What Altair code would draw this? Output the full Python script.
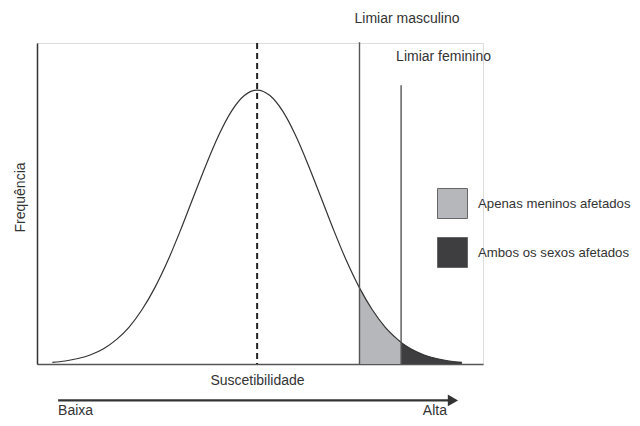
import altair as alt
import pandas as pd

# --- data (x in standard-deviation units, frequency peak = 100) ---
z_vals = [-3.2, -3.0, -2.8, -2.6, -2.4, -2.2, -2.0, -1.8, -1.6, -1.4, -1.2, -1.0, -0.8, -0.6,
          -0.4, -0.2, 0.0, 0.2, 0.4, 0.6, 0.8, 1.0, 1.2, 1.4, 1.6, 1.8, 2.0, 2.2, 2.25, 2.4,
          2.6, 2.8, 3.0, 3.2]
freq = [0.6, 1.1, 2.0, 3.4, 5.6, 8.9, 13.5, 19.8, 27.8, 37.5, 48.7, 60.7, 72.6, 83.5,
        92.3, 98.0, 100.0, 98.0, 92.3, 83.5, 72.6, 60.7, 48.7, 37.5, 27.8, 19.8, 13.5, 8.9, 7.9, 5.6,
        3.4, 2.0, 1.1, 0.6]

mean_z = 0.0
male_threshold = 1.6
female_threshold = 2.25
groups = ["Apenas meninos afetados", "Ambos os sexos afetados"]
group_colors = ["#b6b7ba", "#3e3e40"]
threshold_labels = ["Limiar masculino", "Limiar feminino"]
threshold_tops = [117.5, 101.8]
label_heights = [126.0, 112.0]
arrow_start, arrow_end = -3.11, 3.0
arrow_tip = 3.06
arrow_level = -13.3
end_label_level = -17.3
end_labels = ["Baixa", "Alta"]

X_DOMAIN = [-3.44, 3.53]
Y_DOMAIN = [0, 117.2]
FONT = "Liberation Sans"
FS = 14

curve = pd.DataFrame({"z": z_vals, "f": freq})
male_area = curve[(curve.z >= male_threshold) & (curve.z <= female_threshold)].assign(grupo=groups[0])
fem_area = curve[curve.z >= female_threshold].assign(grupo=groups[1])
areas = pd.concat([male_area, fem_area])

xs = alt.Scale(domain=X_DOMAIN, nice=False, zero=False)
ys = alt.Scale(domain=Y_DOMAIN, nice=False, zero=False)

base = alt.Chart(curve)

shaded = alt.Chart(areas).mark_area(opacity=1).encode(
    x=alt.X("z:Q", scale=xs, axis=alt.Axis(title="Suscetibilidade", labels=False, ticks=False,
                                             grid=False, domainColor="#555", domainWidth=1.5,
                                             titleFont=FONT, titleFontSize=FS, titleFontWeight="normal",
                                             titleColor="#333", titlePadding=9, titleX=220)),
    y=alt.Y("f:Q", scale=ys, stack=None,
            axis=alt.Axis(title="Frequência", labels=False, ticks=False,
                          grid=False, domainColor="#333", domainWidth=1.5,
                          titleFont=FONT, titleFontSize=FS, titleFontWeight="normal",
                          titleColor="#333", titlePadding=10, titleY=154)),
    color=alt.Color("grupo:N", scale=alt.Scale(domain=groups, range=group_colors),
                    legend=alt.Legend(title=None, orient="none", legendX=400, legendY=145,
                                      symbolType="square", symbolSize=900, symbolStrokeColor="#666",
                                      symbolStrokeWidth=1, symbolOpacity=1, labelFont=FONT,
                                      labelFontSize=13.2, labelColor="#333", labelLimit=300,
                                      labelOffset=10, rowPadding=14, padding=0)),
    detail="grupo:N",
)

line = base.mark_line(color="#333", strokeWidth=1.2, interpolate="monotone").encode(
    x=alt.X("z:Q", scale=xs), y=alt.Y("f:Q", scale=ys)
)

thr = pd.DataFrame({"z": [male_threshold, female_threshold], "top": threshold_tops,
                    "lab": threshold_labels, "ly": label_heights})
thr_rules = alt.Chart(thr).mark_rule(color="#555", strokeWidth=1.4).encode(
    x=alt.X("z:Q", scale=xs), y=alt.Y("top:Q", scale=ys), y2=alt.datum(0)
)
thr_text = alt.Chart(thr).mark_text(align="left", baseline="middle", dx=-5, font=FONT,
                                    fontSize=FS, color="#333").encode(
    x=alt.X("z:Q", scale=xs), y=alt.Y("ly:Q", scale=ys), text="lab:N"
)

mean_df = pd.DataFrame({"z": [mean_z], "top": [Y_DOMAIN[1]]})
mean_rule = alt.Chart(mean_df).mark_rule(color="#222", strokeWidth=2, strokeDash=[6, 4]).encode(
    x=alt.X("z:Q", scale=xs), y=alt.Y("top:Q", scale=ys), y2=alt.datum(0)
)

arrow_df = pd.DataFrame({"x0": [arrow_start], "x1": [arrow_end], "y": [arrow_level]})
arrow_line = alt.Chart(arrow_df).mark_rule(color="#333", strokeWidth=2.2).encode(
    x=alt.X("x0:Q", scale=xs), x2="x1:Q", y=alt.Y("y:Q", scale=ys)
)
tip_df = pd.DataFrame({"x": [arrow_tip], "y": [arrow_level]})
arrow_tip_mark = alt.Chart(tip_df).mark_point(shape="triangle-right", filled=True, size=140,
                                              color="#333", opacity=1).encode(
    x=alt.X("x:Q", scale=xs), y=alt.Y("y:Q", scale=ys)
)
ends_df = pd.DataFrame({"x": [arrow_start, arrow_tip], "y": [end_label_level] * 2, "t": end_labels})
ends_left = alt.Chart(ends_df.iloc[[0]]).mark_text(align="left", baseline="middle", font=FONT,
                                                   fontSize=FS, color="#333").encode(
    x=alt.X("x:Q", scale=xs), y=alt.Y("y:Q", scale=ys), text="t:N"
)
ends_right = alt.Chart(ends_df.iloc[[1]]).mark_text(align="right", baseline="middle", dx=-6, font=FONT,
                                                    fontSize=FS, color="#333").encode(
    x=alt.X("x:Q", scale=xs), y=alt.Y("y:Q", scale=ys), text="t:N"
)

chart = alt.layer(
    shaded, line, thr_rules, thr_text, mean_rule, arrow_line, arrow_tip_mark, ends_left, ends_right
).properties(
    width=446, height=321,
    autosize=alt.AutoSizeParams(type="none"),
    padding={"left": 29, "top": 35, "right": 149, "bottom": 54},
).configure_view(stroke=None).configure(background="white")

chart.save("out.html", embed_options={"renderer": "svg", "actions": False})
